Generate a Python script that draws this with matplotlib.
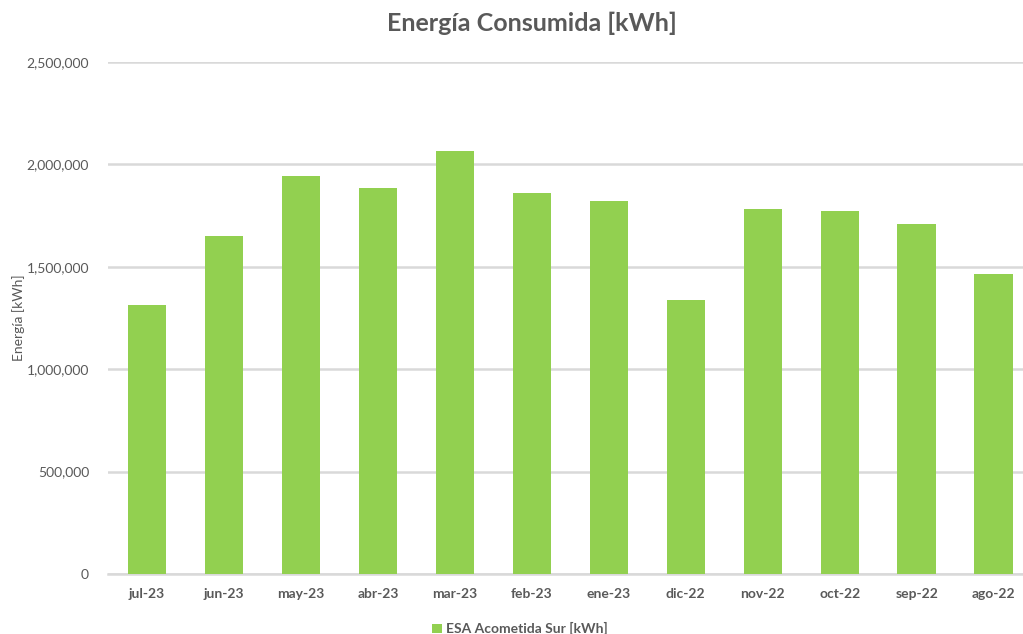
import matplotlib.pyplot as plt
from matplotlib.ticker import FuncFormatter

plt.rcParams['font.family'] = ['Lato', 'DejaVu Sans']

meses = ['jul-23', 'jun-23', 'may-23', 'abr-23', 'mar-23', 'feb-23',
         'ene-23', 'dic-22', 'nov-22', 'oct-22', 'sep-22', 'ago-22']
energia = [1313000, 1650000, 1943000, 1885000, 2065000, 1860000,
           1821000, 1338000, 1782000, 1772000, 1709000, 1465000]

gris = '#595959'
verde = '#92D050'

fig = plt.figure(figsize=(10.23, 6.34), dpi=100)
ax = fig.add_axes([0.106, 0.0946, 0.903, 0.8076])

x = range(len(meses))
ax.bar(x, energia, width=0.5, color=verde, zorder=3, label='ESA Acometida Sur [kWh]')

ax.set_xlim(-0.5, len(meses) - 0.5)
ax.set_ylim(0, 2500000)
ax.set_yticks(range(0, 2500001, 500000))
ax.yaxis.set_major_formatter(FuncFormatter(lambda v, p: f'{int(v):,}'))
ax.set_xticks(list(x))
ax.set_xticklabels(meses, fontweight='bold')
ax.tick_params(axis='both', length=0, colors=gris, labelsize=10)
ax.tick_params(axis='x', pad=10)
ax.tick_params(axis='y', pad=14)

ax.grid(axis='y', color='#D9D9D9', linewidth=1.8, zorder=0)
for s in ['top', 'right', 'left']:
    ax.spines[s].set_visible(False)
ax.spines['bottom'].set_color('#D9D9D9')
ax.spines['bottom'].set_linewidth(1.8)

ax.set_ylabel('Energía [kWh]', color=gris, fontsize=10, labelpad=6)
ax.yaxis.set_label_coords(-0.09, 0.5)

fig.text(0.52, 0.963, 'Energía Consumida [kWh]', ha='center', va='center',
         fontsize=18, fontweight='bold', color=gris)

leg = fig.legend(loc='center', bbox_to_anchor=(0.508, 0.008), frameon=False,
                 prop={'size': 10, 'weight': 'bold'},
                 handlelength=0.7, handleheight=0.7, handletextpad=0.3)
for t in leg.get_texts():
    t.set_color(gris)

fig.savefig('out.png', dpi=100)
